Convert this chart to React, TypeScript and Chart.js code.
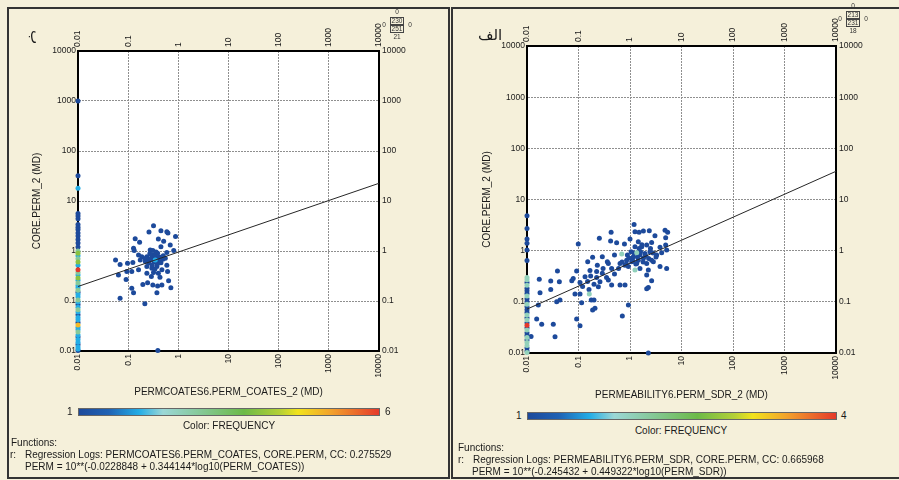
import React, { useEffect, useRef } from "react";
import { Chart, registerables } from "chart.js";

Chart.register(...registerables);

const FONT = "'Liberation Sans', Arial, Helvetica, sans-serif";
const BG = "#f5f0da";

// ---------- shared axis values ----------
const AXIS_TICKS = [0.01, 0.1, 1, 10, 100, 1000, 10000];
const AXIS_MIN = 0.01;
const AXIS_MAX = 10000;
const Y_TITLE = "CORE.PERM_2 (MD)";

// ---------- panel ب : PERM_COATES ----------
const coatesX = [
  0.32, 0.26, 0.45, 0.59, 0.62, 0.88, 0.138, 0.169, 0.4, 0.51,
  0.128, 0.132, 0.45, 0.69, 0.275, 0.31, 0.81, 0.161, 0.187, 0.236,
  0.32, 0.386, 0.59, 0.056, 0.069, 0.097, 0.124, 0.174, 0.219, 0.255,
  0.297, 0.42, 0.49, 0.59, 0.094, 0.118, 0.161, 0.236, 0.297,
  0.374, 0.47, 0.064, 0.091, 0.236, 0.32, 0.4, 0.61, 0.64, 0.196,
  0.244, 0.31, 0.386, 0.47, 0.71, 0.118, 0.128, 0.374, 0.069, 0.215,
  0.39, 0.3, 0.35, 0.28, 0.4, 0.33, 0.38, 0.3, 0.26, 0.45,
  0.42, 0.22, 0.5, 0.36, 0.27, 0.55, 0.34, 0.43, 0.29,
];
const coatesY = [
  3.2, 2.4, 2.55, 2.44, 2.29, 1.94, 1.76, 1.49, 1.74, 1.56,
  1.13, 1.02, 1.22, 1.32, 1.05, 1.02, 1.02, 0.83, 0.77, 0.77,
  0.83, 0.9, 0.93, 0.66, 0.54, 0.57, 0.59, 0.66, 0.71, 0.66,
  0.68, 0.61, 0.68, 0.52, 0.39, 0.39, 0.42, 0.49, 0.45,
  0.49, 0.42, 0.33, 0.27, 0.36, 0.37, 0.36, 0.39, 0.255, 0.215,
  0.233, 0.209, 0.2, 0.209, 0.185, 0.18, 0.147, 0.147, 0.113, 0.0885,
  0.0102, 0.75, 0.8, 0.7, 0.7, 0.6, 0.55, 0.52, 0.58, 0.58,
  0.76, 0.62, 0.8, 0.95, 0.88, 0.72, 0.43, 0.3, 0.31,
];
const coatesX2 = [0.347];
const coatesY2 = [0.66];
const coatesEdgeY = [
  1000, 32, 18, 5.6, 5.0, 4.4, 3.4, 3.0, 2.7, 2.3,
  2.0, 1.7, 1.45, 1.2, 1.0, 0.9, 0.8, 0.7, 0.6, 0.52,
  0.42, 0.37, 0.33, 0.29, 0.26, 0.23, 0.205, 0.185, 0.165, 0.15,
  0.135, 0.12, 0.105, 0.095, 0.085, 0.075, 0.067, 0.06, 0.053, 0.047,
  0.042, 0.037, 0.033, 0.03, 0.027, 0.024, 0.021, 0.019, 0.017, 0.015,
  0.0135, 0.012, 0.011, 0.0102,
];
const coatesEdgeFreq = [
  1, 1, 2, 1, 1, 1, 1, 1, 1, 1,
  1, 1, 1, 1, 3, 4, 2, 3, 4, 2,
  6, 3, 2, 4, 2, 3, 2, 2, 3, 1,
  2, 2, 3, 2, 1, 2, 3, 2, 1, 2,
  2, 1, 5, 2, 2, 3, 2, 1, 2, 2,
  1, 2, 2, 1,
];
const coatesFitX = [0.01, 10000];
const coatesFitY = [0.195, 22.6];
const coatesMaxFreq = 6;

// ---------- panel الف : PERM_SDR ----------
const sdrX = [
  1.2, 1.82, 2.37, 1.25, 1.5, 4.79, 5.38, 0.43, 0.254, 3.05,
  1.0, 0.42, 0.55, 0.78, 1.45, 2.63, 0.099, 4.93, 1.25, 1.69,
  2.11, 3.83, 4.93, 0.89, 1.16, 1.56, 1.95, 2.44, 3.29, 4.12,
  5.15, 0.188, 0.29, 0.363, 0.5, 0.86, 1.08, 1.45, 1.82, 2.63,
  0.151, 0.232, 0.38, 0.64, 0.8, 1.35, 2.11, 2.84, 3.83, 5.15,
  0.039, 0.092, 0.167, 0.225, 0.29, 0.44, 0.93, 1.56, 2.27, 0.225,
  0.172, 0.079, 0.074, 0.107, 0.134, 0.261, 0.38, 0.64, 0.8, 2.11,
  2.63, 2.27, 2.11, 0.0173, 0.0289, 0.0425, 0.0179, 0.0289, 0.0855, 0.107,
  0.16, 0.243, 0.44, 0.0377, 0.0437, 0.115, 0.177, 0.2, 0.188, 0.209,
  0.93, 0.0166, 0.0154, 0.0193, 0.0324, 0.035, 0.092, 0.107, 0.71, 2.27,
  0.012, 1.1, 1.2, 1.4, 1.6, 1.8, 2.0, 2.3, 1.3, 1.5,
  1.05, 0.95, 1.7, 2.5, 3.2, 2.8, 1.15, 0.85, 0.7, 0.6,
  0.5, 0.3, 0.35, 0.15, 0.12, 0.2,
];
const sdrY = [
  3.26, 2.42, 2.45, 2.34, 2.28, 2.52, 2.28, 2.28, 1.74, 1.96,
  1.69, 1.54, 1.43, 1.35, 1.49, 1.45, 1.35, 1.79, 1.19, 1.19,
  1.29, 1.16, 1.29, 0.82, 0.76, 0.82, 0.88, 0.95, 0.82, 0.91,
  1.03, 0.74, 0.76, 0.61, 0.82, 0.65, 0.61, 0.65, 0.71, 0.65,
  0.61, 0.52, 0.56, 0.56, 0.52, 0.56, 0.56, 0.61, 0.49, 0.45,
  0.4, 0.4, 0.41, 0.39, 0.36, 0.45, 0.49, 0.45, 0.42, 0.3,
  0.32, 0.287, 0.259, 0.24, 0.31, 0.247, 0.267, 0.213, 0.213, 0.333,
  0.259, 0.19, 0.18, 0.275, 0.255, 0.247, 0.151, 0.175, 0.142, 0.142,
  0.175, 0.198, 0.213, 0.1007, 0.108, 0.096, 0.108, 0.108, 0.069, 0.0745,
  0.0865, 0.0865, 0.046, 0.0363, 0.0363, 0.0208, 0.046, 0.0342, 0.0529, 0.01,
  0.021, 0.7, 0.9, 0.75, 0.95, 0.6, 0.8, 0.7, 0.55, 1.1,
  0.95, 0.72, 1.3, 1.1, 0.75, 0.9, 0.62, 0.55, 0.6, 0.45,
  0.35, 0.45, 0.3, 0.25, 0.2, 0.22,
];
const sdrX2 = [0.69, 1.35, 1.25, 0.162];
const sdrY2 = [0.86, 0.91, 0.42, 0.142];
const sdrEdgeY = [
  4.8, 2.7, 1.7, 1.4, 1.03, 0.64, 0.3, 0.27, 0.24, 0.21,
  0.185, 0.165, 0.145, 0.13, 0.115, 0.1, 0.09, 0.08, 0.07, 0.062,
  0.055, 0.049, 0.044, 0.039, 0.035, 0.031, 0.028, 0.025, 0.022, 0.02,
  0.018, 0.016, 0.014, 0.0125, 0.011, 0.0102,
];
const sdrEdgeFreq = [
  1, 1, 1, 1, 1, 1, 2, 2, 1, 2,
  1, 1, 1, 2, 1, 1, 2, 1, 1, 1,
  2, 1, 2, 1, 4, 1, 2, 1, 1, 2,
  1, 2, 2, 1, 1, 2,
];
const sdrFitX = [0.01, 10000];
const sdrFitY = [0.072, 35.6];
const sdrMaxFreq = 4;

// ---------- colour map (FREQUENCY) ----------
const COLOR_STOPS: [number, string][] = [
  [0, "#1d4a9b"],
  [0.1, "#1f62b4"],
  [0.2, "#23ade6"],
  [0.28, "#9bd7d6"],
  [0.4, "#86c99a"],
  [0.55, "#6cba48"],
  [0.67, "#b4d036"],
  [0.73, "#f2e31c"],
  [0.84, "#f2a22c"],
  [1, "#e5392a"],
];

function hexRgb(h: string): number[] {
  return [1, 3, 5].map((i) => parseInt(h.slice(i, i + 2), 16));
}
function colorAt(t: number): string {
  const c = Math.max(0, Math.min(1, t));
  for (let i = 1; i < COLOR_STOPS.length; i++) {
    const [p1, c1] = COLOR_STOPS[i - 1];
    const [p2, c2] = COLOR_STOPS[i];
    if (c <= p2) {
      const k = (c - p1) / (p2 - p1 || 1);
      const a = hexRgb(c1);
      const b = hexRgb(c2);
      const m = a.map((v, j) => Math.round(v + (b[j] - v) * k));
      return `rgb(${m[0]},${m[1]},${m[2]})`;
    }
  }
  return COLOR_STOPS[COLOR_STOPS.length - 1][1];
}
const GRADIENT = `linear-gradient(to right, ${COLOR_STOPS.map(
  ([p, c]) => `${c} ${p * 100}%`
).join(", ")})`;

type Pt = { x: number; y: number; f: number };

function buildPoints(
  x1: number[], y1: number[], x2: number[], y2: number[],
  edgeY: number[], edgeF: number[]
): Pt[] {
  const pts: Pt[] = [];
  edgeY.forEach((y, i) => pts.push({ x: AXIS_MIN, y, f: edgeF[i] }));
  x1.forEach((x, i) => pts.push({ x, y: y1[i], f: 1 }));
  x2.forEach((x, i) => pts.push({ x, y: y2[i], f: 2 }));
  return pts.sort((a, b) => a.f - b.f);
}

type Spec = {
  canvasLeft: number;
  canvasWidth: number;
  canvasHeight: number;
  padL: number;
  padR: number;
  padT: number;
  padB: number;
  xTitle: string;
  xTitleBottom: number;
  yTitleTop: number;
  pts: Pt[];
  fitX: number[];
  fitY: number[];
  maxF: number;
};

const LEFT_SPEC: Spec = {
  canvasLeft: 0,
  canvasWidth: 450,
  canvasHeight: 410,
  padL: 78,
  padR: 71,
  padT: 51,
  padB: 59,
  xTitle: "PERMCOATES6.PERM_COATES_2 (MD)",
  xTitleBottom: 12,
  yTitleTop: 31,
  pts: buildPoints(coatesX, coatesY, coatesX2, coatesY2, coatesEdgeY, coatesEdgeFreq),
  fitX: coatesFitX,
  fitY: coatesFitY,
  maxF: coatesMaxFreq,
};

const RIGHT_SPEC: Spec = {
  canvasLeft: 450,
  canvasWidth: 449,
  canvasHeight: 410,
  padL: 77,
  padR: 63,
  padT: 46,
  padB: 57,
  xTitle: "PERMEABILITY6.PERM_SDR_2 (MD)",
  xTitleBottom: 9,
  yTitleTop: 31,
  pts: buildPoints(sdrX, sdrY, sdrX2, sdrY2, sdrEdgeY, sdrEdgeFreq),
  fitX: sdrFitX,
  fitY: sdrFitY,
  maxF: sdrMaxFreq,
};

const whiteArea = {
  id: "whiteArea",
  beforeDraw(chart: any) {
    const { ctx, chartArea: a } = chart;
    ctx.save();
    ctx.fillStyle = "#ffffff";
    ctx.fillRect(a.left, a.top, a.right - a.left, a.bottom - a.top);
    ctx.restore();
  },
};

function buildConfig(s: Spec): any {
  const tickFont = { family: FONT, size: 8.5 };
  const titleFont = { family: FONT, size: 10 };
  const setTicks = (sc: any) => {
    sc.ticks = AXIS_TICKS.map((v) => ({ value: v }));
  };
  const fmt = (v: any) => String(v);
  const gridColor = (c: any) => {
    const v = c.tick && c.tick.value;
    return v === AXIS_MIN || v === AXIS_MAX ? "rgba(0,0,0,0)" : "#8f8f8f";
  };
  const logBase = { type: "logarithmic", min: AXIS_MIN, max: AXIS_MAX, afterBuildTicks: setTicks };
  const mainGrid = { color: gridColor, lineWidth: 1, drawTicks: false, borderDash: [2, 1] };
  const sideGrid = { display: true, drawOnChartArea: false, drawTicks: false };
  const mainBorder = { display: true, color: "#000", width: 2, dash: [2, 1] };
  const sideBorder = { display: true, color: "#000", width: 2 };
  const xTicks = { autoSkip: false, minRotation: 90, maxRotation: 90, padding: 3, font: tickFont, color: "#1a1a1a", callback: fmt };
  const yTicks = { autoSkip: false, font: tickFont, color: "#1a1a1a", callback: fmt };

  return {
    type: "scatter",
    data: {
      datasets: [
        {
          label: "fit",
          data: s.fitX.map((x, i) => ({ x, y: s.fitY[i] })),
          showLine: true,
          borderColor: "#262626",
          borderWidth: 1,
          pointRadius: 0,
          fill: false,
        },
        {
          label: "samples",
          data: s.pts.map((p) => ({ x: p.x, y: p.y })),
          backgroundColor: s.pts.map((p) => colorAt((p.f - 1) / (s.maxF - 1))),
          borderWidth: 0,
          pointRadius: 2.5,
          pointBorderWidth: 0,
          clip: false,
        },
      ],
    },
    options: {
      responsive: false,
      animation: false,
      events: [],
      layout: { padding: 0 },
      plugins: { legend: { display: false }, tooltip: { enabled: false } },
      scales: {
        x: {
          ...logBase,
          position: "bottom",
          afterFit: (sc: any) => { sc.height = s.padB; },
          ticks: xTicks,
          grid: mainGrid,
          border: mainBorder,
          title: {
            display: true,
            text: s.xTitle,
            font: titleFont,
            color: "#1a1a1a",
            padding: { top: 0, bottom: s.xTitleBottom },
          },
        },
        x2: {
          ...logBase,
          position: "top",
          afterFit: (sc: any) => { sc.height = s.padT; },
          ticks: { ...xTicks, padding: 4, labelOffset: 10.2 },
          grid: sideGrid,
          border: sideBorder,
        },
        y: {
          ...logBase,
          position: "left",
          afterFit: (sc: any) => { sc.width = s.padL; },
          ticks: { ...yTicks, padding: 2 },
          grid: mainGrid,
          border: mainBorder,
          title: {
            display: true,
            text: Y_TITLE,
            font: titleFont,
            color: "#1a1a1a",
            padding: { top: s.yTitleTop, bottom: 0 },
          },
        },
        y2: {
          ...logBase,
          position: "right",
          afterFit: (sc: any) => { sc.width = s.padR; },
          ticks: { ...yTicks, padding: 3 },
          grid: sideGrid,
          border: sideBorder,
        },
      },
    },
    plugins: [whiteArea],
  };
}

function LogScatter({ spec }: { spec: Spec }) {
  const ref = useRef<HTMLCanvasElement | null>(null);
  useEffect(() => {
    if (!ref.current) return;
    const chart = new Chart(ref.current, buildConfig(spec));
    return () => chart.destroy();
  }, [spec]);
  return (
    <canvas
      ref={ref}
      width={spec.canvasWidth}
      height={spec.canvasHeight}
      style={{
        position: "absolute",
        left: spec.canvasLeft,
        top: 0,
        width: spec.canvasWidth,
        height: spec.canvasHeight,
      }}
    />
  );
}

const text = (extra: React.CSSProperties): React.CSSProperties => ({
  position: "absolute",
  fontFamily: FONT,
  fontSize: 10,
  lineHeight: "12px",
  color: "#1a1a1a",
  whiteSpace: "nowrap",
  ...extra,
});

function CountBox(props: {
  left: number; top: number; a: string; b: string; below: string;
}) {
  const { left, top, a, b, below } = props;
  const small = (extra: React.CSSProperties): React.CSSProperties => ({
    position: "absolute",
    fontFamily: FONT,
    fontSize: 6.5,
    lineHeight: "8px",
    color: "#333",
    textAlign: "center",
    whiteSpace: "nowrap",
    ...extra,
  });
  const cell: React.CSSProperties = {
    position: "absolute",
    left,
    width: 14,
    height: 8,
    border: "1px solid #444",
    boxSizing: "border-box",
  };
  return (
    <>
      <div style={small({ left: left + 3, top: top - 9, width: 8 })}>0</div>
      <div style={{ ...cell, top }}>
        <div style={small({ left: 0, top: -1, width: 12 })}>{a}</div>
      </div>
      <div style={{ ...cell, top: top + 8 }}>
        <div style={small({ left: 0, top: -1, width: 12 })}>{b}</div>
      </div>
      <div style={small({ left: left + 1, top: top + 16, width: 12 })}>{below}</div>
      <div style={small({ left: left - 9, top: top + 4, width: 6 })}>0</div>
      <div style={small({ left: left + 17, top: top + 4, width: 6 })}>0</div>
    </>
  );
}

export default function App() {
  return (
    <div
      style={{
        position: "fixed",
        left: 0,
        top: 0,
        width: 899,
        height: 480,
        background: BG,
        overflow: "hidden",
      }}
    >
      {/* panel frames */}
      <div
        style={{
          position: "absolute",
          left: 7,
          top: 7,
          width: 443,
          height: 472,
          border: "2px solid #333",
          boxSizing: "border-box",
        }}
      />
      <div
        style={{
          position: "absolute",
          left: 451,
          top: 7,
          width: 452,
          height: 472,
          border: "2px solid #333",
          boxSizing: "border-box",
        }}
      />

      <LogScatter spec={LEFT_SPEC} />
      <LogScatter spec={RIGHT_SPEC} />

      {/* panel labels */}
      <div
        style={text({
          left: 28,
          top: 28,
          width: 16,
          height: 18,
          lineHeight: "18px",
          fontSize: 15,
          fontFamily: "'DejaVu Sans', 'Noto Sans', sans-serif",
          textAlign: "center",
          transform: "rotate(90deg)",
        })}
      >
        ب
      </div>
      <div
        style={text({
          left: 478,
          top: 26,
          fontSize: 15,
          lineHeight: "18px",
          fontFamily: "'DejaVu Sans', 'Noto Sans', sans-serif",
        })}
      >
        الف
      </div>

      <CountBox left={390} top={17} a="230" b="251" below="21" />
      <CountBox left={846} top={11} a="213" b="231" below="18" />

      {/* left colour bar & functions */}
      <div
        style={{
          position: "absolute",
          left: 78,
          top: 408,
          width: 302,
          height: 8,
          background: GRADIENT,
          border: "1px solid #666",
          boxSizing: "border-box",
        }}
      />
      <div style={text({ left: 67, top: 406 })}>1</div>
      <div style={text({ left: 385, top: 406 })}>6</div>
      <div style={text({ left: 229, top: 420, transform: "translateX(-50%)" })}>
        Color: FREQUENCY
      </div>
      <div style={text({ left: 11, top: 437 })}>Functions:</div>
      <div style={text({ left: 10, top: 449 })}>r:</div>
      <div style={text({ left: 25, top: 449 })}>
        Regression Logs: PERMCOATES6.PERM_COATES, CORE.PERM, CC: 0.275529
      </div>
      <div style={text({ left: 25, top: 461 })}>
        PERM = 10**(-0.0228848 + 0.344144*log10(PERM_COATES))
      </div>

      {/* right colour bar & functions */}
      <div
        style={{
          position: "absolute",
          left: 527,
          top: 412,
          width: 310,
          height: 8,
          background: GRADIENT,
          border: "1px solid #666",
          boxSizing: "border-box",
        }}
      />
      <div style={text({ left: 516, top: 410 })}>1</div>
      <div style={text({ left: 841, top: 410 })}>4</div>
      <div style={text({ left: 681, top: 425, transform: "translateX(-50%)" })}>
        Color: FREQUENCY
      </div>
      <div style={text({ left: 458, top: 442 })}>Functions:</div>
      <div style={text({ left: 458, top: 454 })}>r:</div>
      <div style={text({ left: 473, top: 454 })}>
        Regression Logs: PERMEABILITY6.PERM_SDR, CORE.PERM, CC: 0.665968
      </div>
      <div style={text({ left: 472, top: 466 })}>
        PERM = 10**(-0.245432 + 0.449322*log10(PERM_SDR))
      </div>
    </div>
  );
}
